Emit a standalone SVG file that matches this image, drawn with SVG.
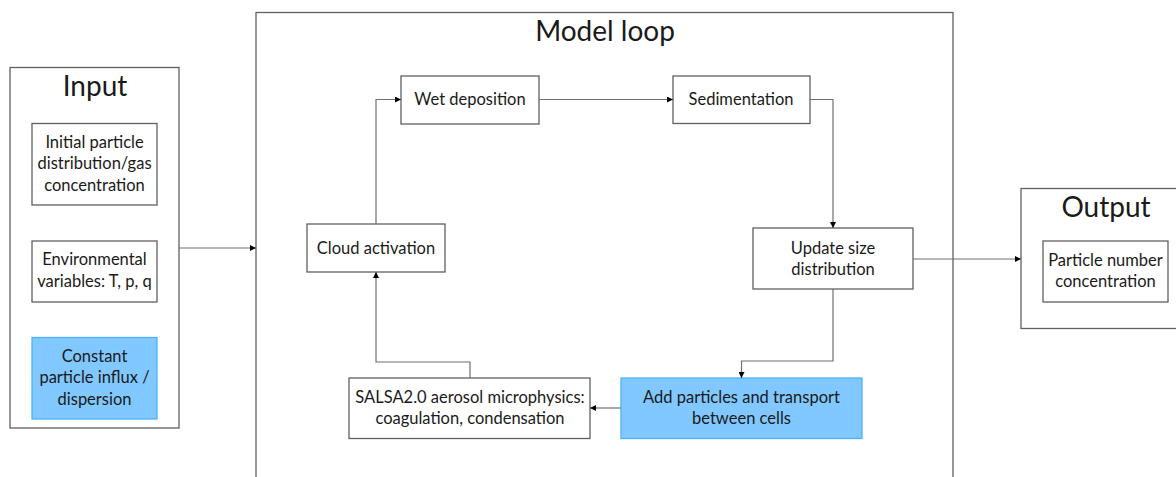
<svg xmlns="http://www.w3.org/2000/svg" width="1176" height="477" viewBox="0 0 1176 477">
<defs>
<marker id="arr" viewBox="0 0 10 10" refX="10" refY="5" markerWidth="7" markerHeight="6" markerUnits="userSpaceOnUse" orient="auto">
<path d="M0,0 L10,5 L0,10 Z" fill="#000"/>
</marker>
</defs>
<style>
.frame{fill:#fff;stroke:#606060;stroke-width:1.3}
.box{fill:#fff;stroke:#606060;stroke-width:1.3}
.blue{fill:#80c8ff;stroke:#4eb2f7;stroke-width:1.3}
.title{font-family:Lato,"Liberation Sans",sans-serif;font-size:28px;fill:#1a1a1a;text-anchor:middle}
.t{font-family:Lato,"Liberation Sans",sans-serif;font-size:16.5px;fill:#1a1a1a;text-anchor:middle}
.c{fill:none;stroke:#707070;stroke-width:1.2;marker-end:url(#arr)}
</style>
<rect width="1176" height="477" fill="#fff"/>
<g id="input">
<rect class="frame" x="10" y="67.5" width="169" height="360.5"/>
<text class="title" x="95" y="96">Input</text>
</g>
<g id="model-loop">
<rect class="frame" x="256" y="12.5" width="697" height="480"/>
<text class="title" x="605" y="41">Model loop</text>
</g>
<g id="output">
<rect class="frame" x="1021" y="188.5" width="170" height="140"/>
<text class="title" x="1106" y="216.5">Output</text>
</g>
<g id="initial">
<rect class="box" x="32" y="123.5" width="125" height="81.5"/>
<text class="t" x="94.5" y="147.5">Initial particle</text>
<text class="t" x="94.5" y="169">distribution/gas</text>
<text class="t" x="94.5" y="190.5">concentration</text>
</g>
<g id="environmental">
<rect class="box" x="32" y="241" width="125" height="61"/>
<text class="t" x="94.5" y="265">Environmental</text>
<text class="t" x="94.5" y="286.5">variables: T, p, q</text>
</g>
<g id="constant-influx">
<rect class="blue" x="32" y="337.5" width="125" height="81.5"/>
<text class="t" x="94.5" y="361.5">Constant</text>
<text class="t" x="94.5" y="383">particle influx /</text>
<text class="t" x="94.5" y="404.5">dispersion</text>
</g>
<g id="wet-deposition">
<rect class="box" x="401" y="76" width="138" height="48"/>
<text class="t" x="470" y="105">Wet deposition</text>
</g>
<g id="sedimentation">
<rect class="box" x="673" y="76" width="137" height="47.5"/>
<text class="t" x="741" y="105">Sedimentation</text>
</g>
<g id="cloud-activation">
<rect class="box" x="307" y="224" width="138" height="48"/>
<text class="t" x="376" y="254">Cloud activation</text>
</g>
<g id="update-size">
<rect class="box" x="753" y="228" width="160" height="61"/>
<text class="t" x="833" y="253.5">Update size</text>
<text class="t" x="833" y="274.5">distribution</text>
</g>
<g id="salsa">
<rect class="box" x="349" y="378" width="241" height="60.5"/>
<text class="t" x="470" y="402.5">SALSA2.0 aerosol microphysics:</text>
<text class="t" x="470" y="424">coagulation, condensation</text>
</g>
<g id="add-particles">
<rect class="blue" x="621" y="378" width="241" height="60.5"/>
<text class="t" x="741.5" y="402.5">Add particles and transport</text>
<text class="t" x="741.5" y="424">between cells</text>
</g>
<g id="particle-number">
<rect class="box" x="1043" y="241" width="125" height="61"/>
<text class="t" x="1105.5" y="266">Particle number</text>
<text class="t" x="1105.5" y="286.5">concentration</text>
</g>
<g id="connectors">
<path class="c" d="M179,248 H256"/>
<path class="c" d="M376,224 V99.5 H401"/>
<path class="c" d="M539,99.5 H673"/>
<path class="c" d="M810,99.5 H833 V228"/>
<path class="c" d="M913,259 H1021"/>
<path class="c" d="M833,289 V361 H741.5 V378"/>
<path class="c" d="M621,408 H590"/>
<path class="c" d="M470,378 V362 H376 V272"/>
</g>
</svg>
